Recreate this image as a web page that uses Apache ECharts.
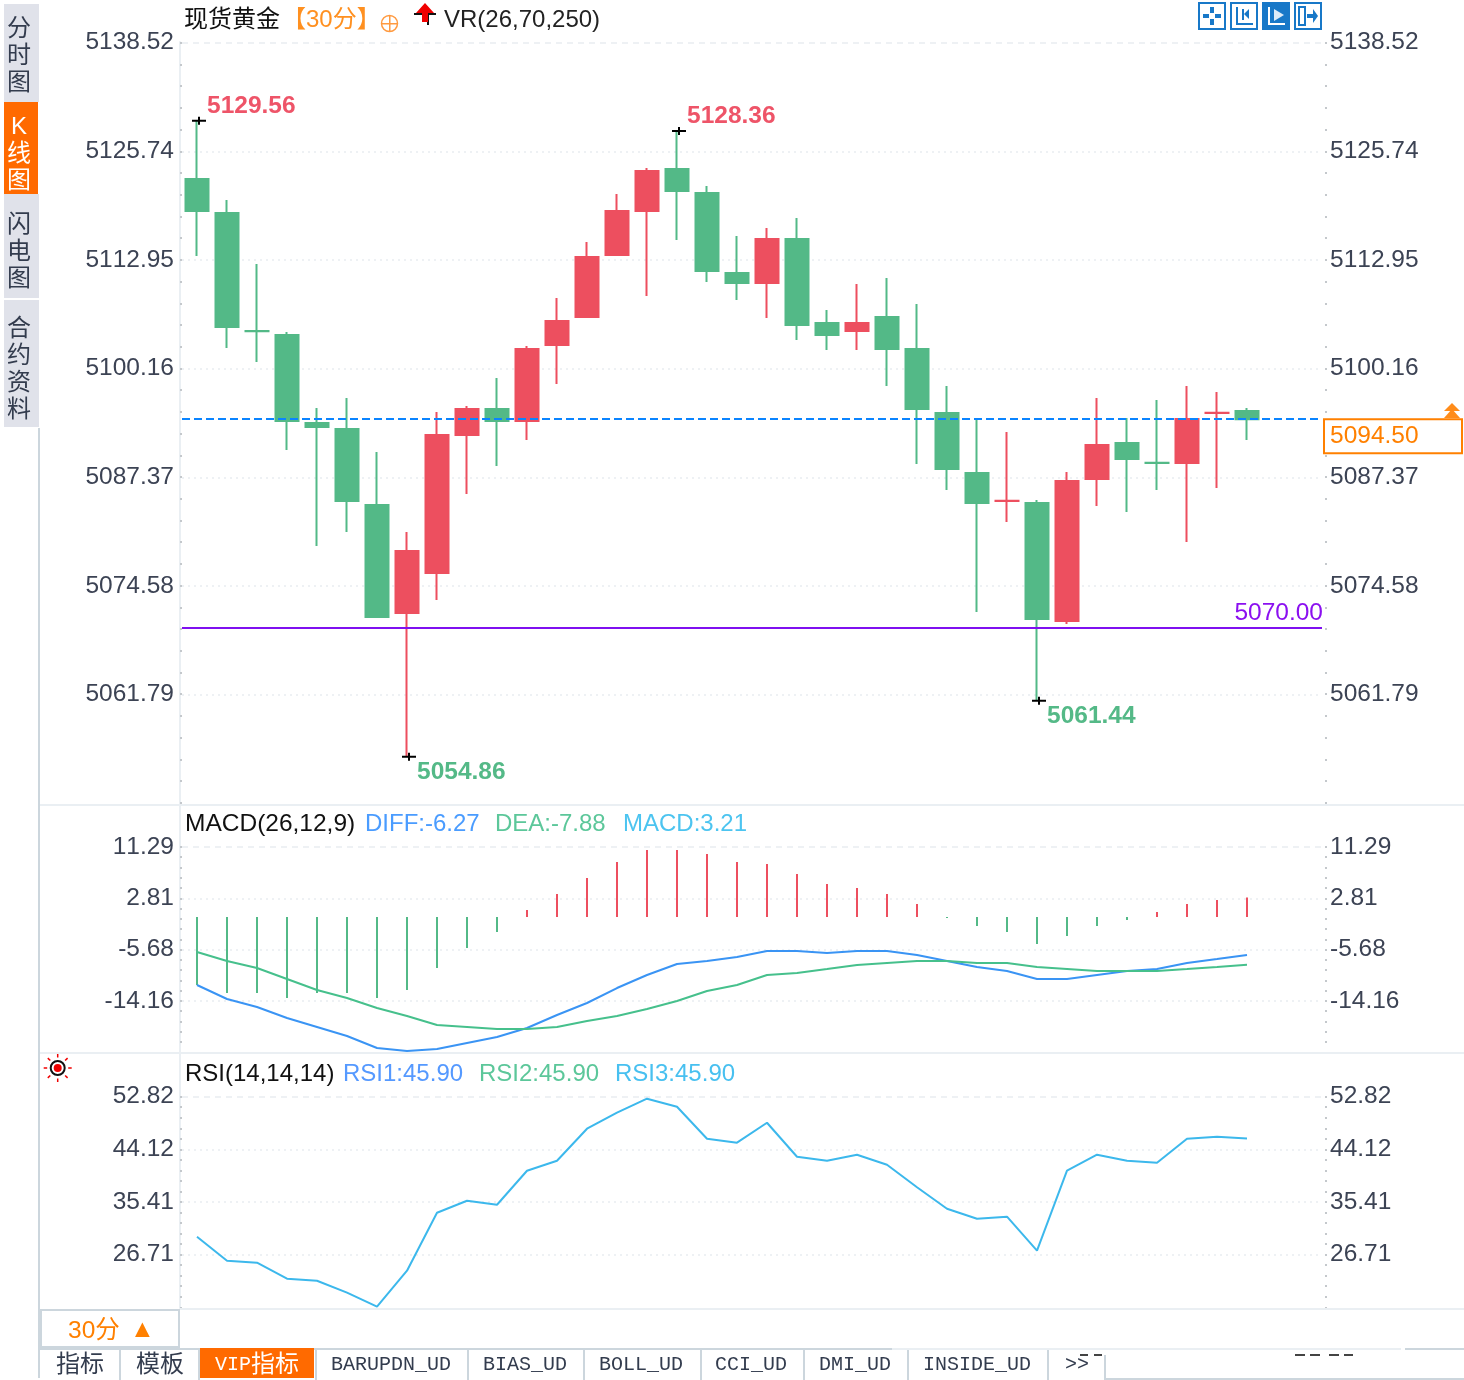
<!DOCTYPE html>
<html>
<head>
<meta charset="utf-8">
<title>现货黄金</title>
<script src="https://cdn.jsdelivr.net/npm/echarts@6/dist/echarts.min.js"></script>
<style>
  html, body { margin: 0; padding: 0; background: #fff; }
  #chart { width: 1464px; height: 1380px; }
</style>
</head>
<body>
<div id="chart"></div>
<script>
// candles
const opens = [5122.72, 5118.72, 5104.86, 5104.39, 5094.06, 5093.35, 5084.43, 5071.74, 5076.44, 5092.65, 5095.70, 5094.29,
  5103.22, 5106.51, 5113.79, 5118.96, 5123.89, 5121.07, 5111.68, 5110.50, 5115.67, 5105.80, 5104.86, 5106.51,
  5102.75, 5095.23, 5088.18, 5084.89, 5084.66, 5070.80, 5087.48, 5091.71, 5089.37, 5089.36, 5095.22, 5095.47];
const closes = [5118.96, 5105.33, 5104.84, 5094.29, 5093.59, 5084.90, 5071.27, 5079.02, 5092.65, 5095.70, 5094.29, 5102.75,
  5106.04, 5113.55, 5118.96, 5123.66, 5121.31, 5111.91, 5110.50, 5115.67, 5105.57, 5104.39, 5105.80, 5102.75,
  5095.70, 5088.65, 5084.66, 5084.91, 5071.04, 5087.25, 5091.47, 5089.83, 5089.35, 5094.53, 5095.24, 5094.50];
const lows = [5113.67, 5102.87, 5101.22, 5090.89, 5079.61, 5081.25, 5071.15, 5054.86, 5073.27, 5085.72, 5089.01, 5092.06,
  5098.64, 5106.39, 5113.67, 5108.97, 5115.55, 5110.62, 5108.50, 5106.39, 5103.81, 5102.63, 5102.63, 5098.40,
  5089.24, 5086.19, 5071.86, 5082.43, 5061.44, 5070.45, 5084.31, 5083.60, 5086.19, 5080.08, 5086.42, 5092.06];
const highs = [5129.56, 5120.25, 5112.73, 5104.75, 5095.82, 5096.99, 5090.65, 5081.25, 5095.35, 5096.05, 5099.34, 5103.10,
  5108.74, 5115.32, 5120.95, 5124.01, 5128.36, 5121.89, 5116.02, 5116.96, 5118.14, 5107.33, 5110.38, 5111.09,
  5108.03, 5098.40, 5094.53, 5093.00, 5085.01, 5088.30, 5096.99, 5094.64, 5096.76, 5098.40, 5097.70, 5095.82];

const macdBars = [-11.24, -12.56, -12.56, -13.39, -12.56, -12.56, -13.39, -12.07, -8.43, -5.12, -2.48, 1.16,
  3.80, 6.45, 9.09, 11.07, 11.07, 10.41, 9.09, 8.76, 7.11, 5.45, 4.79, 3.80,
  2.15, -0.17, -1.49, -2.48, -4.46, -3.14, -1.49, -0.50, 0.83, 2.15, 2.81, 3.21];
const diffLine = [-11.24, -13.55, -14.88, -16.69, -18.18, -19.67, -21.65, -22.15, -21.82, -20.83, -19.83, -18.35,
  -16.20, -14.21, -11.74, -9.59, -7.77, -7.27, -6.61, -5.62, -5.62, -5.95, -5.62, -5.62,
  -6.28, -7.27, -8.26, -8.93, -10.25, -10.25, -9.59, -8.93, -8.60, -7.60, -6.94, -6.27];
const deaLine = [-5.79, -7.27, -8.43, -10.25, -12.07, -13.39, -15.04, -16.36, -17.85, -18.18, -18.51, -18.51,
  -18.18, -17.19, -16.36, -15.21, -13.88, -12.23, -11.24, -9.59, -9.26, -8.60, -7.93, -7.60,
  -7.27, -7.27, -7.60, -7.60, -8.26, -8.60, -8.93, -8.93, -8.93, -8.60, -8.26, -7.88];
const rsiLine = [29.68, 25.72, 25.39, 22.74, 22.41, 20.43, 18.12, 24.06, 33.65, 35.63, 34.97, 40.59,
  42.24, 47.53, 50.18, 52.49, 51.17, 45.88, 45.22, 48.52, 42.90, 42.24, 43.23, 41.58,
  37.85, 34.31, 32.66, 32.99, 27.37, 40.59, 43.23, 42.24, 41.91, 45.88, 46.21, 45.90];

// tick labels
const priceTicks = [5138.52, 5125.74, 5112.95, 5100.16, 5087.37, 5074.58, 5061.79];
const macdTicks = [11.29, 2.81, -5.68, -14.16];
const rsiTicks = [52.82, 44.12, 35.41, 26.71];

// two empty slots on the right of the last candle
const categories = Array.from({ length: 38 }, (_, i) => String(i + 1));

const lastPrice = 5094.50;
const supportPrice = 5070.00;
const extremes = [
  { idx: 0, val: 5129.56, color: '#ee5468', dy: -14 },
  { idx: 16, val: 5128.36, color: '#ee5468', dy: -15 },
  { idx: 7, val: 5054.86, color: '#54b987', dy: 16 },
  { idx: 28, val: 5061.44, color: '#54b987', dy: 16 }
];

const UP = '#ed4f5f';
const DOWN = '#53b987';
const AXIS_TEXT = '#3c4354';
const LIGHT = '#eaeff3';
const BORDER = '#ccd6dd';
const ORANGE = '#ff8000';
const SANS = '"Liberation Sans","Noto Sans CJK SC",sans-serif';
const MONO = '"Liberation Mono","Noto Sans CJK SC",monospace';

const chart = echarts.init(document.getElementById('chart'), null, { width: 1464, height: 1380 });

function subTicks(top, step, min) {
  const out = [];
  for (let v = top; v >= min; v -= step) out.push(+v.toFixed(3));
  return out;
}

// labelled axis of one panel; the picture draws these about 2px above the marks of panels 1 and 2
function tickAxis(gridIndex, side, min, max, ticks) {
  const left = side === 'left';
  return {
    type: 'value', gridIndex, position: side, min, max,
    offset: left ? 2 : 5,
    splitLine: { show: false },
    axisLine: { show: left, onZero: false, lineStyle: { color: LIGHT, width: 2 } },
    axisTick: {
      show: true, inside: true, length: 2,
      customValues: subTicks(ticks[0], (ticks[0] - ticks[1]) / 5, min),
      lineStyle: { color: '#c4c8cc', width: 2 }
    },
    axisLabel: {
      show: true, customValues: ticks, margin: left ? 6 : 3, color: AXIS_TEXT,
      fontFamily: SANS, fontSize: 24.5, padding: [0, 0, 3, 0],
      formatter: v => v.toFixed(2)
    }
  };
}

function hiddenAxis(gridIndex, min, max) {
  return { type: 'value', gridIndex, min, max, show: false, splitLine: { show: false } };
}

// faint horizontal lines at the ticks, first one dashed
function gridLines(xAxisIndex, yAxisIndex, ticks) {
  return {
    type: 'line', xAxisIndex, yAxisIndex, silent: true, showSymbol: false, z: 1,
    data: categories.map(() => null),
    markLine: {
      silent: true, symbol: 'none', animation: false, z: 1, label: { show: false },
      data: ticks.map((t, i) => ({
        yAxis: t,
        lineStyle: { color: '#eef1f4', width: 2, type: i === 0 ? [6, 5] : [2, 4] }
      }))
    }
  };
}

function txt(x, y, text, fill, font, align) {
  return {
    type: 'text', silent: true, z: 20,
    style: { x, y, text, fill, font: font || `24.5px ${SANS}`, textAlign: align || 'left', textVerticalAlign: 'middle', lineHeight: 27 }
  };
}
function box(x, y, width, height, fill, stroke, lineWidth) {
  return {
    type: 'rect', silent: true, z: 10,
    shape: { x, y, width, height },
    style: { fill: fill || 'none', stroke: stroke || 'none', lineWidth: lineWidth || 0 }
  };
}
function bar(x, y, width, height, fill) {
  return box(x, y, width, height, fill);
}
function poly(points, fill) {
  return { type: 'polygon', silent: true, z: 12, shape: { points }, style: { fill } };
}
function circle(cx, cy, r, fill, stroke, lineWidth) {
  return { type: 'circle', silent: true, z: 12, shape: { cx, cy, r }, style: { fill: fill || 'none', stroke: stroke || 'none', lineWidth: lineWidth || 0 } };
}

const TAB_FONT = `20px ${MONO}`;
const CJK_24 = `24px ${SANS}`;
const HEAD_24 = `24px ${SANS}`;
const ICON = '#1878c8';

const chrome = [
  // frame lines
  bar(38, 428, 2, 950, BORDER),
  bar(40, 804, 1424, 2, LIGHT),
  bar(40, 1052, 1424, 2, LIGHT),
  bar(180, 1308, 1284, 2, LIGHT),

  // left side tabs
  bar(4, 4, 35, 98, '#e0e2ea'),
  bar(4, 102, 34, 92, '#ff6a00'),
  bar(4, 194, 35, 104, '#e0e2ea'),
  bar(4, 300, 35, 127, '#e0e2ea'),
  txt(19, 56, '分\n时\n图', '#333c4e', CJK_24, 'center'),
  txt(19, 154, 'K\n线\n图', '#fff', CJK_24, 'center'),
  txt(19, 252, '闪\n电\n图', '#333c4e', CJK_24, 'center'),
  txt(19, 370, '合\n约\n资\n料', '#333c4e', CJK_24, 'center'),

  // title row
  txt(184, 20, '现货黄金', '#111', CJK_24),
  txt(282, 20, '【30分】', '#ff9020', CJK_24),
  circle(389.5, 23.5, 8, 'none', '#ff9a40', 1.5),
  bar(381, 23, 17, 1.5, '#ff9a40'),
  bar(389, 15, 1.5, 17, '#ff9a40'),
  bar(414, 13, 22, 2, '#111'),
  bar(427, 14, 2, 11, '#111'),
  poly([[425, 3], [434, 13], [428, 13], [428, 22], [422, 22], [422, 13], [416, 13]], '#f00000'),
  txt(444, 20, 'VR(26,70,250)', '#222', HEAD_24),

  // zoom buttons, top right
  box(1199, 3, 26, 26, '#fff', ICON, 2),
  bar(1210, 7, 4, 6, ICON), bar(1210, 19, 4, 6, ICON), bar(1203, 14, 6, 4, ICON), bar(1215, 14, 6, 4, ICON),
  box(1231, 3, 26, 26, '#fff', ICON, 2),
  bar(1236, 7, 2, 18, ICON), bar(1236, 23, 17, 2, ICON), bar(1242, 9, 2, 11, ICON),
  poly([[1244, 14], [1249, 9], [1249, 19]], ICON),
  box(1263, 3, 26, 26, ICON, ICON, 2),
  bar(1268, 7, 2, 18, '#fff'), bar(1268, 23, 17, 2, '#fff'),
  poly([[1274, 9], [1284, 15], [1274, 21]], '#dcebf8'),
  box(1295, 3, 26, 26, '#fff', ICON, 2),
  box(1299, 7, 6, 18, 'none', ICON, 2),
  bar(1307, 14, 7, 4, ICON),
  poly([[1313, 9], [1318, 16], [1313, 23]], ICON),

  // current price marker
  poly([[1452, 403], [1460, 411], [1444, 411]], '#ff8c1a'),
  poly([[1452, 409], [1460, 418], [1444, 418]], '#ff8c1a'),

  // MACD header
  txt(185, 824, 'MACD(26,12,9)', '#111'),
  txt(365, 824, 'DIFF:-6.27', '#4a9cff', HEAD_24),
  txt(495, 824, 'DEA:-7.88', '#5cc79a', HEAD_24),
  txt(623, 824, 'MACD:3.21', '#4cc4f0', HEAD_24),

  // RSI header
  circle(57.7, 1068, 7, 'none', '#111', 2),
  circle(57.7, 1068, 4, '#f00000'),
  txt(185, 1074, 'RSI(14,14,14)', '#111', HEAD_24),
  txt(343, 1074, 'RSI1:45.90', '#5599ff', HEAD_24),
  txt(479, 1074, 'RSI2:45.90', '#5cc79a', HEAD_24),
  txt(615, 1074, 'RSI3:45.90', '#48c0f0', HEAD_24),

  // period box
  box(41, 1310, 138, 37, '#fff', BORDER, 2),
  txt(68, 1331, '30分', ORANGE),
  txt(130, 1330, '▲', ORANGE, `25px ${SANS}`),

  // bottom tabs
  bar(40, 1348, 852, 2, BORDER),
  bar(892, 1348, 509, 2, LIGHT),
  bar(1405, 1348, 59, 2, BORDER),
  bar(200, 1348, 114, 30, '#ff6a00'),
  bar(119, 1350, 2, 30, BORDER),
  bar(198, 1350, 2, 30, BORDER),
  bar(315, 1350, 2, 30, BORDER),
  bar(467, 1350, 2, 30, BORDER),
  bar(583, 1350, 2, 30, BORDER),
  bar(700, 1350, 2, 30, BORDER),
  bar(803, 1350, 2, 30, BORDER),
  bar(907, 1350, 2, 30, BORDER),
  bar(1047, 1350, 2, 30, BORDER),
  txt(56, 1365, '指标', '#333c4e', CJK_24),
  txt(136, 1365, '模板', '#333c4e', CJK_24),
  txt(215, 1365, 'VIP', '#fff', TAB_FONT),
  txt(251, 1365, '指标', '#fff', CJK_24),
  txt(331, 1365, 'BARUPDN_UD', '#333c4e', TAB_FONT),
  txt(483, 1365, 'BIAS_UD', '#333c4e', TAB_FONT),
  txt(599, 1365, 'BOLL_UD', '#333c4e', TAB_FONT),
  txt(715, 1365, 'CCI_UD', '#333c4e', TAB_FONT),
  txt(819, 1365, 'DMI_UD', '#333c4e', TAB_FONT),
  txt(923, 1365, 'INSIDE_UD', '#333c4e', TAB_FONT),
  txt(1065, 1365, '>>', '#333c4e', TAB_FONT),

  // window overlapping the tab row
  bar(1104, 1355, 2, 24, BORDER),
  bar(1104, 1378, 360, 2, BORDER),
  bar(1080, 1354, 8, 2, '#444'), bar(1094, 1354, 8, 2, '#444'),
  bar(1295, 1354, 10, 2, '#444'), bar(1310, 1354, 10, 2, '#444'),
  bar(1329, 1354, 10, 2, '#444'), bar(1344, 1354, 9, 2, '#444')
];

// rays around the RSI marker
for (let i = 0; i < 8; i++) {
  const a = i * Math.PI / 4;
  chrome.push({
    type: 'line', silent: true, z: 12,
    shape: {
      x1: 57.7 + 10.5 * Math.cos(a), y1: 1068 + 10.5 * Math.sin(a),
      x2: 57.7 + 14 * Math.cos(a), y2: 1068 + 14 * Math.sin(a)
    },
    style: { stroke: '#f00000', lineWidth: 1.5 }
  });
}

const option = {
  animation: false,
  backgroundColor: '#fff',
  textStyle: { fontFamily: SANS },
  grid: [
    { left: 182, width: 1140, top: 42, height: 762 },
    { left: 182, width: 1140, top: 805, height: 247 },
    { left: 182, width: 1140, top: 1054, height: 254 }
  ],
  xAxis: [0, 1, 2].map(gridIndex => ({
    type: 'category', gridIndex, data: categories, boundaryGap: true, show: false
  })),
  yAxis: [
    tickAxis(0, 'left', 5048.92, 5138.60, priceTicks),
    tickAxis(0, 'right', 5048.92, 5138.60, priceTicks),
    hiddenAxis(0, 5049.30, 5138.80),
    tickAxis(1, 'left', -22.60, 18.23, macdTicks),
    tickAxis(1, 'right', -22.60, 18.23, macdTicks),
    hiddenAxis(1, -22.31, 18.51),
    tickAxis(2, 'left', 17.90, 59.88, rsiTicks),
    tickAxis(2, 'right', 17.90, 59.88, rsiTicks)
  ],
  graphic: chrome,
  series: [
    gridLines(0, 0, priceTicks),
    gridLines(1, 3, macdTicks),
    gridLines(2, 6, rsiTicks),
    {
      name: '现货黄金', type: 'candlestick', xAxisIndex: 0, yAxisIndex: 2,
      barWidth: 24, z: 3,
      data: opens.map((o, i) => [o, closes[i], lows[i], highs[i]]),
      itemStyle: { color: UP, color0: DOWN, borderColor: UP, borderColor0: DOWN, borderWidth: 2 },
      markLine: {
        silent: true, symbol: 'none', animation: false, z: 5,
        data: [
          {
            yAxis: lastPrice,
            lineStyle: { color: '#0a84ff', width: 2, type: [8, 4] },
            label: {
              show: true, position: 'end', distance: 3, offset: [0, 17],
              formatter: lastPrice.toFixed(2), color: ORANGE, fontFamily: SANS, fontSize: 24.5,
              backgroundColor: '#fff', borderColor: ORANGE, borderWidth: 2,
              width: 131, height: 32, lineHeight: 32, padding: [0, 0, 0, 5], align: 'left'
            }
          },
          {
            yAxis: supportPrice,
            lineStyle: { color: '#7f10f0', width: 2, type: 'solid' },
            label: {
              show: true, position: 'insideEndTop', distance: 4, offset: [5, 2],
              formatter: supportPrice.toFixed(2), color: '#8b10f0', fontFamily: SANS, fontSize: 24.5
            }
          }
        ]
      },
      markPoint: {
        silent: true, animation: false,
        symbol: 'path://M0 3H14V5H0Z M6 0H8V8H6Z',
        symbolSize: [14, 8],
        symbolOffset: [2, 0],
        itemStyle: { color: '#000' },
        data: extremes.map(e => ({
          coord: [e.idx, e.val],
          label: {
            show: true, position: 'inside', align: 'left', verticalAlign: 'middle',
            offset: [8, e.dy], formatter: e.val.toFixed(2), color: e.color,
            fontFamily: SANS, fontSize: 24.5, fontWeight: 'bold'
          }
        }))
      }
    },
    {
      name: 'MACD', type: 'bar', xAxisIndex: 1, yAxisIndex: 5, barWidth: 2, z: 3,
      data: macdBars,
      itemStyle: { color: p => (p.value >= 0 ? UP : DOWN) }
    },
    {
      name: 'DIFF', type: 'line', xAxisIndex: 1, yAxisIndex: 5, showSymbol: false, z: 4,
      data: diffLine, lineStyle: { color: '#3a94f4', width: 2 }
    },
    {
      name: 'DEA', type: 'line', xAxisIndex: 1, yAxisIndex: 5, showSymbol: false, z: 4,
      data: deaLine, lineStyle: { color: '#46c08c', width: 2 }
    },
    {
      name: 'RSI', type: 'line', xAxisIndex: 2, yAxisIndex: 6, showSymbol: false, z: 4,
      data: rsiLine, lineStyle: { color: '#3cb8ec', width: 2 }
    }
  ]
};

chart.setOption(option);

// the reference text has no kerning; the canvas exists only after the first paint
document.querySelectorAll('#chart canvas').forEach(c => { c.getContext('2d').fontKerning = 'none'; });
chart.getZr().painter.refresh(true);
</script>
</body>
</html>
